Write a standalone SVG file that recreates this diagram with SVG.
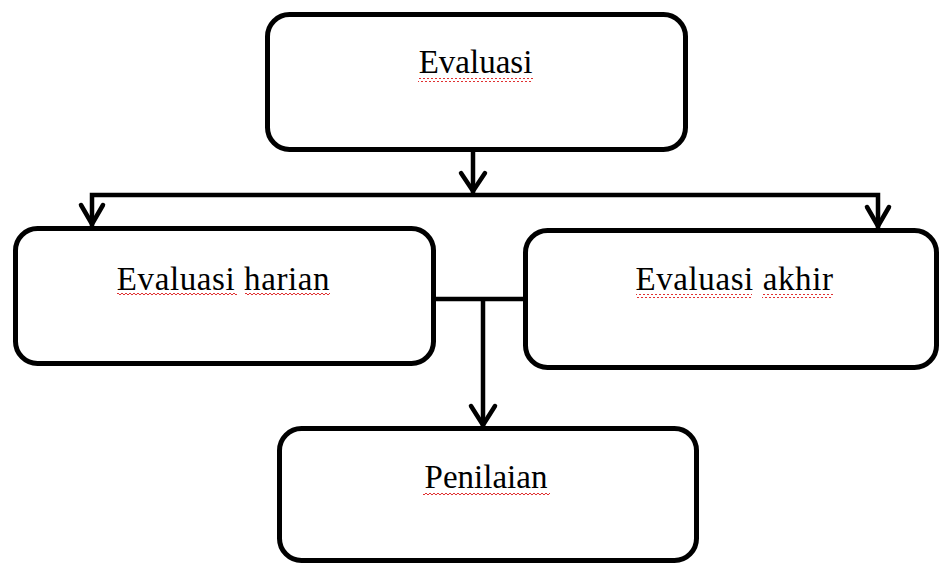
<svg xmlns="http://www.w3.org/2000/svg" width="939" height="565" viewBox="0 0 939 565">
<style>
.box{fill:#fff;stroke:#000;stroke-width:5}
.lbl{font-family:"Liberation Serif","Times New Roman",serif;font-size:33px;fill:#000;text-anchor:middle}
.con{fill:none;stroke:#000;stroke-width:4.5;stroke-linejoin:miter}
.head{fill:none;stroke:#000;stroke-width:4.5;stroke-linecap:round;stroke-linejoin:round}
</style>
<defs>
<pattern id="wave" width="4" height="4" patternUnits="userSpaceOnUse">
<polyline points="0,3 2,1 4,3" fill="none" stroke="#e03030" stroke-width="1"/>
</pattern>
</defs>
<rect width="939" height="565" fill="#fff"/>
<g id="connectors">
<path class="con" d="M473,150 V194"/>
<path class="con" d="M92,226 V195 H878 V228"/>
<path class="con" d="M436,299 H524"/>
<path class="con" d="M483,299 V426"/>
<path class="head" d="M461,173 L473,191 L485,173"/>
<path class="head" d="M81,205 L92,224 L103,205"/>
<path class="head" d="M867,207 L878,226 L889,207"/>
<path class="head" d="M471,406 L483,425 L495,406"/>
</g>
<g id="evaluasi">
<rect class="box" x="267.5" y="14.5" width="418" height="135" rx="22"/>
<text class="lbl" x="475.5" y="73">Evaluasi</text>
<rect x="418" y="78" width="115" height="4" fill="url(#wave)"/>
</g>
<g id="evaluasi-harian">
<rect class="box" x="15.5" y="228.5" width="418" height="135" rx="22"/>
<text class="lbl" x="223.5" y="290" letter-spacing="0.6">Evaluasi harian</text>
<rect x="117" y="292" width="120" height="4" fill="url(#wave)"/>
<rect x="245" y="292" width="85" height="4" fill="url(#wave)"/>
</g>
<g id="evaluasi-akhir">
<rect class="box" x="525.5" y="230.5" width="411" height="137" rx="22"/>
<text class="lbl" x="734.5" y="290" letter-spacing="0.6">Evaluasi akhir</text>
<rect x="636" y="294" width="116" height="4" fill="url(#wave)"/>
<rect x="762" y="294" width="71" height="4" fill="url(#wave)"/>
</g>
<g id="penilaian">
<rect class="box" x="279.5" y="428.5" width="417" height="132" rx="22"/>
<text class="lbl" x="486" y="488">Penilaian</text>
<rect x="423" y="492" width="127" height="4" fill="url(#wave)"/>
</g>
</svg>
